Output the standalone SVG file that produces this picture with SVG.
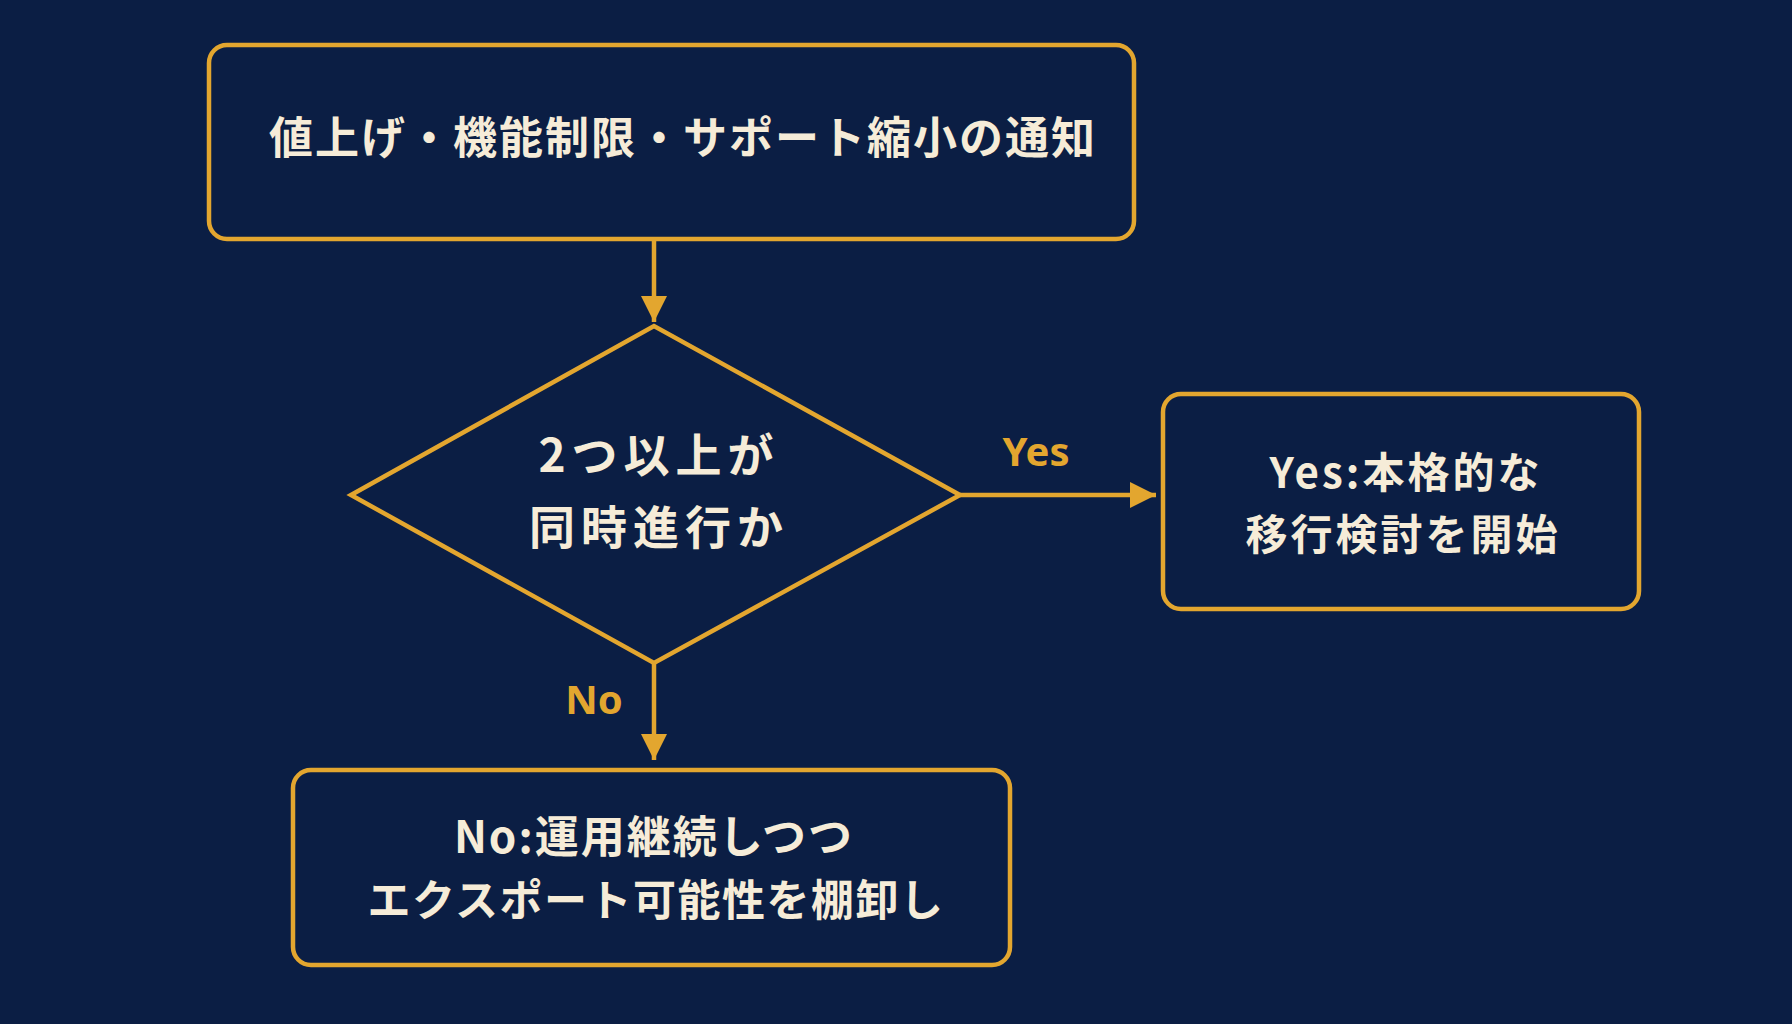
<svg xmlns="http://www.w3.org/2000/svg" width="1792" height="1024" viewBox="0 0 1792 1024">
<defs>
<style>
.box{fill:#0b1e44;stroke:#e3a62f;stroke-width:4.5}
.t{font-family:"Noto Sans CJK JP","Noto Sans",sans-serif;font-weight:bold;fill:#f6ecd8;text-anchor:middle;letter-spacing:2px}
.lbl{font-family:"Noto Sans","Noto Sans CJK JP",sans-serif;font-weight:bold;fill:#e3a62f;text-anchor:middle}
.c{stroke:#e3a62f;stroke-width:4.5;fill:none}
</style>
<marker id="ah2" viewBox="0 0 10 10" refX="10" refY="5" markerWidth="26" markerHeight="32" orient="auto" markerUnits="userSpaceOnUse"><path d="M0,0 L10,5 L0,10z" fill="#e3a62f"/></marker>
</defs>
<rect width="1792" height="1024" fill="#0b1e44"/>
<g id="connectors">
<line class="c" x1="654" y1="239" x2="654" y2="322" marker-end="url(#ah2)"/>
<line class="c" x1="960" y1="495" x2="1156" y2="495" marker-end="url(#ah2)"/>
<line class="c" x1="654" y1="663" x2="654" y2="760" marker-end="url(#ah2)"/>
<text class="lbl" x="1036" y="466" font-size="40">Yes</text>
<text class="lbl" x="594" y="714" font-size="40">No</text>
</g>
<g id="notice">
<rect class="box" x="209" y="45" width="925" height="194" rx="18"/>
<text class="t" x="683" y="154" font-size="44">値上げ・機能制限・サポート縮小の通知</text>
</g>
<g id="decision">
<polygon class="box" points="351,495 654,326 960,495 654,663"/>
<text class="t" x="659" y="472" font-size="46" style="letter-spacing:6px">2つ以上が</text>
<text class="t" x="659" y="544" font-size="46" style="letter-spacing:6px">同時進行か</text>
</g>
<g id="yes">
<rect class="box" x="1163" y="394" width="476" height="215" rx="18"/>
<text class="t" x="1406" y="488" font-size="42" style="letter-spacing:3px">Yes:本格的な</text>
<text class="t" x="1403" y="550" font-size="42" style="letter-spacing:3px">移行検討を開始</text>
</g>
<g id="no">
<rect class="box" x="293" y="770" width="717" height="195" rx="18"/>
<text class="t" x="654" y="853" font-size="44">No:運用継続しつつ</text>
<text class="t" x="656" y="916" font-size="43" style="letter-spacing:1.5px">エクスポート可能性を棚卸し</text>
</g>
</svg>
